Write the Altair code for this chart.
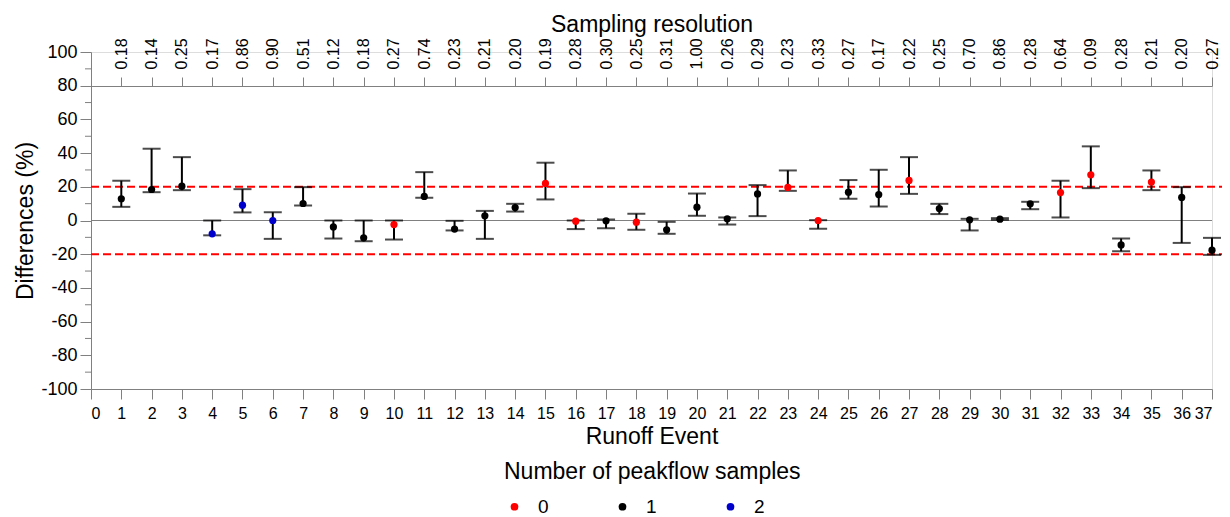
import altair as alt
import pandas as pd

# ---------------- data ----------------
events = list(range(1, 38))
resolution = ["0.18", "0.14", "0.25", "0.17", "0.86", "0.90", "0.51", "0.12", "0.18", "0.27",
              "0.74", "0.23", "0.21", "0.20", "0.19", "0.28", "0.30", "0.25", "0.31", "1.00",
              "0.26", "0.29", "0.23", "0.33", "0.27", "0.17", "0.22", "0.25", "0.70", "0.86",
              "0.28", "0.64", "0.09", "0.28", "0.21", "0.20", "0.27"]
samples = ["1", "1", "1", "2", "2", "2", "1", "1", "1", "0",
           "1", "1", "1", "1", "0", "0", "1", "0", "1", "1",
           "1", "1", "0", "0", "1", "1", "0", "1", "1", "1",
           "1", "0", "0", "1", "0", "1", "1"]
difference = [12.9, 18.4, 20.4, -7.9, 9.1, 0.0, 10.1, -3.8, -10.3, -2.4,
              14.3, -5.1, 2.8, 7.7, 22.0, -0.4, -0.2, -1.0, -5.5, 7.9,
              1.0, 15.8, 19.6, 0.0, 16.8, 15.4, 23.8, 7.1, 0.4, 0.8,
              9.9, 16.6, 27.1, -14.5, 22.8, 13.7, -17.6]
upper = [23.6, 42.6, 37.6, 0.0, 18.6, 4.9, 19.8, 0.0, 0.0, 0.0,
         28.7, -0.2, 5.7, 9.9, 34.3, 0.0, 0.6, 4.0, -0.8, 16.0,
         1.8, 21.0, 29.7, 0.2, 24.0, 30.1, 37.6, 9.9, 1.0, 1.4,
         11.1, 23.6, 44.0, -10.7, 29.7, 19.8, -10.3]
lower = [8.1, 16.8, 18.0, -8.8, 4.8, -10.9, 8.9, -10.7, -12.3, -11.3,
         13.5, -5.9, -10.9, 5.3, 12.5, -5.1, -4.6, -5.5, -7.9, 2.8,
         -2.4, 2.6, 17.6, -4.9, 12.9, 8.3, 15.8, 3.8, -5.9, 0.4,
         6.7, 1.8, 19.2, -18.2, 18.0, -13.3, -20.4]
sample_levels = ["0", "1", "2"]
sample_colors = ["#ff0000", "#000000", "#0000cc"]
threshold_lines = [20, -20]
y_major_ticks = [-100, -80, -60, -40, -20, 0, 20, 40, 60, 80, 100]
y_minor_ticks = [-90, -70, -50, -30, -10, 10, 30, 50, 70, 90]
x_ticks = list(range(0, 38))

df = pd.DataFrame({"event": events, "diff": difference, "upper": upper,
                   "lower": lower, "samples": samples, "res": resolution})

FONT = "Liberation Sans"
GREY = "#808080"
W, H = 1121, 337
TITLE_SIZE = 23

xscale = alt.Scale(domain=[0, 37], nice=False, zero=False)
yscale = alt.Scale(domain=[-100, 100], nice=False)

base = alt.Chart(df)

zero_line = alt.Chart(pd.DataFrame({"y": [0]})).mark_rule(color=GREY, strokeWidth=1).encode(
    y=alt.Y("y:Q", scale=yscale, axis=None))

dashed = alt.Chart(pd.DataFrame({"y": threshold_lines})).mark_rule(
    color="#ff0000", strokeWidth=2, strokeDash=[8, 4]).encode(
    y=alt.Y("y:Q", scale=yscale, axis=None),
    x=alt.value(0), x2=alt.value(W + 10))

minor = alt.Chart(pd.DataFrame({"y": y_minor_ticks})).mark_rule(color=GREY, strokeWidth=1).encode(
    y=alt.Y("y:Q", scale=yscale, axis=None),
    x=alt.value(-6), x2=alt.value(0))

bars = base.mark_rule(color="black", strokeWidth=2).encode(
    x=alt.X("event:Q", scale=xscale,
            axis=alt.Axis(values=x_ticks, title="Runoff Event", grid=False,
                          tickSize=10, tickColor=GREY, domainColor=GREY,
                          labelFontSize=16, labelPadding=6, labelColor="black",
                          titleFontSize=TITLE_SIZE, titleFontWeight="normal", titlePadding=4,
                          labelFont=FONT, titleFont=FONT)),
    y=alt.Y("lower:Q", scale=yscale,
            axis=alt.Axis(values=y_major_ticks, title="Differences (%)", grid=False,
                          tickSize=11, tickColor=GREY, domainColor=GREY,
                          labelExpr="toString(datum.value)",
                          labelFontSize=18, labelPadding=3, labelColor="black",
                          titleFontSize=TITLE_SIZE, titleFontWeight="normal", titlePadding=3,
                          labelFont=FONT, titleFont=FONT)),
    y2="upper:Q")

cap_up = base.mark_tick(color="black", size=18, thickness=2, orient="horizontal").encode(
    x=alt.X("event:Q", scale=xscale, axis=None),
    y=alt.Y("upper:Q", scale=yscale, axis=None))
cap_lo = base.mark_tick(color="black", size=18, thickness=2, orient="horizontal").encode(
    x=alt.X("event:Q", scale=xscale, axis=None),
    y=alt.Y("lower:Q", scale=yscale, axis=None))

label_expr = "[" + ",".join("'" + r + "'" for r in resolution) + "][datum.value - 1]"

top_axis = base.mark_point(opacity=0).encode(
    x=alt.X("event:Q", scale=xscale,
            axis=alt.Axis(orient="top", values=events, labelExpr=label_expr,
                          title="Sampling resolution", grid=False, offset=-34,
                          tickSize=9, tickColor=GREY, domainColor=GREY,
                          labelAngle=270, labelAlign="left", labelBaseline="middle",
                          labelFontSize=16, labelPadding=8, labelColor="black",
                          titleFontSize=TITLE_SIZE, titleFontWeight="normal", titlePadding=1,
                          labelFont=FONT, titleFont=FONT)),
    y=alt.value(0))

points = base.mark_circle(size=52, opacity=1).encode(
    x=alt.X("event:Q", scale=xscale, axis=None),
    y=alt.Y("diff:Q", scale=yscale, axis=None),
    color=alt.Color("samples:N",
                    scale=alt.Scale(domain=sample_levels, range=sample_colors),
                    legend=alt.Legend(title="Number of peakflow samples", orient="none",
                                      legendX=413, legendY=409, direction="horizontal",
                                      titleFontSize=TITLE_SIZE, titleFontWeight="normal",
                                      titleLimit=600, titleFont=FONT, labelFont=FONT,
                                      labelFontSize=19,
                                      symbolType="circle", symbolSize=60,
                                      labelOffset=14, columnPadding=63,
                                      titlePadding=13, symbolOffset=1, padding=0)))

chart = alt.layer(zero_line, dashed, minor, bars, cap_up, cap_lo, top_axis, points).resolve_axis(
    x="independent", y="independent"
).properties(
    width=W, height=H,
    padding={"left": 91, "top": 52, "right": 18, "bottom": 128},
    autosize=alt.AutoSizeParams(type="none")
).configure_view(stroke=None).configure(font=FONT, background="white")

chart.save("out.html", embed_options={"renderer": "svg", "actions": False})
